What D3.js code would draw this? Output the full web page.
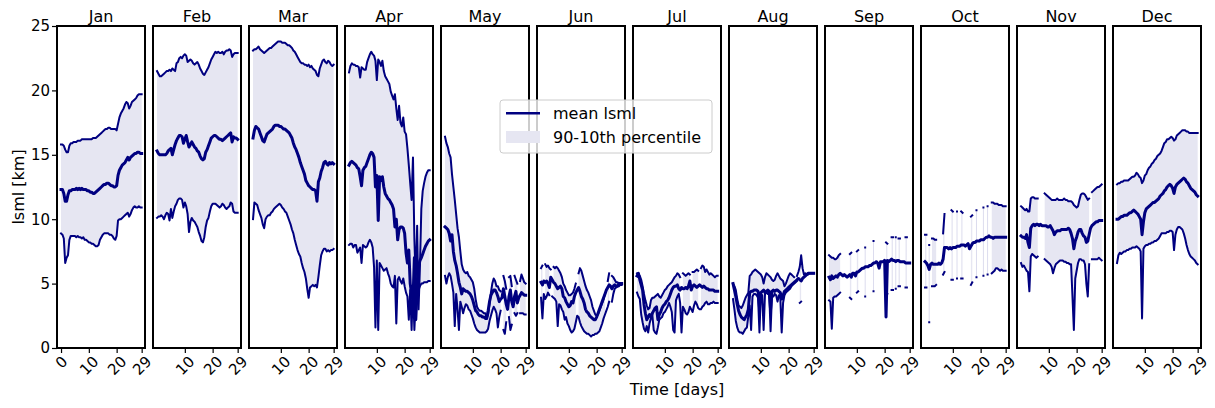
<!DOCTYPE html>
<html>
<head>
<meta charset="utf-8">
<script src="https://d3js.org/d3.v7.min.js"></script>
<style>
  body { margin: 0; background: #fff; }
  svg text { font-family: "DejaVu Sans", sans-serif; fill: #000; }
</style>
</head>
<body>
<div id="chart"></div>
<script>
// ---- data ----
const months = ["Jan", "Feb", "Mar", "Apr", "May", "Jun", "Jul", "Aug", "Sep", "Oct", "Nov", "Dec"];
const days = d3.range(0, 29.25, 0.5); // half-day sampling, 59 points
const yTicks = [0, 5, 10, 15, 20, 25];
const xTicksFirst = [0, 10, 20, 29];
const xTicksOther = [10, 20, 29];

// 90th percentile / mean / 10th percentile of lsml [km], null = no data
const janUpper = [15.8,15.8,15.7,15.4,15.2,15.2,15.7,15.9,15.9,16.0, 16.0,16.0,16.1,16.1,16.1,16.2,16.2,16.2,16.2,16.2, 16.2,16.2,16.2,16.3,16.3,16.3,16.4,16.5,16.6,16.7, 16.8,16.9,17.0,17.0,17.1,17.1,17.0,17.0,17.0,17.0, 16.9,17.4,17.9,18.2,18.4,18.6,18.9,19.1,19.0,18.6, 18.8,19.1,19.2,19.3,19.4,19.6,19.7,19.7,19.7];
const janMean  = [12.3,12.3,12.0,11.4,11.4,11.9,12.2,12.2,12.3,12.3, 12.3,12.4,12.3,12.4,12.3,12.4,12.3,12.3,12.3,12.2, 12.2,12.1,12.1,12.0,12.0,12.1,12.2,12.3,12.4,12.5, 12.6,12.7,12.7,12.8,12.8,12.7,12.6,12.6,12.5,12.5, 12.6,13.4,13.8,14.0,14.2,14.3,14.4,14.6,14.8,14.6, 14.8,14.9,15.0,15.1,15.1,15.2,15.2,15.1,15.1];
const janLower = [8.9,8.8,8.5,6.6,7.0,7.2,8.4,8.7,8.7,8.7, 8.7,8.6,8.7,8.6,8.6,8.5,8.6,8.4,8.4,8.3, 8.2,8.2,8.1,8.1,8.0,7.9,7.9,8.0,8.4,8.6, 8.8,8.9,8.9,8.9,8.9,8.8,8.8,8.7,8.5,8.4, 8.7,9.9,10.0,10.0,10.1,10.2,10.3,10.4,10.5,10.2, 10.4,10.7,10.9,11.0,10.9,10.9,11.0,10.9,10.9];

const febUpper = [21.5,21.3,21.1,21.1,21.2,21.3,21.4,21.5,21.5,21.6, 21.5,21.7,21.6,21.5,22.1,22.2,22.5,22.6,22.5,22.7, 22.8,22.7,22.2,22.3,22.4,22.3,22.1,22.0,22.1,22.2, 22.0,21.7,21.5,21.3,21.2,21.4,21.6,21.8,22.1,22.4, 22.6,22.8,23.0,22.9,23.0,22.9,22.9,23.0,22.8,23.0, 23.1,23.1,23.2,23.1,22.6,22.8,22.9,22.9,22.9];
const febMean  = [15.3,15.1,15.0,15.0,15.0,15.0,15.0,15.1,15.3,15.4, 15.5,15.0,15.4,15.8,16.1,16.3,16.5,16.5,16.4,15.9, 16.2,16.5,16.0,15.6,15.8,16.0,15.8,15.6,15.5,15.3, 15.2,14.9,14.7,14.6,14.7,15.2,15.4,15.7,16.0,16.3, 16.4,16.5,16.5,16.4,16.3,16.2,16.2,16.1,16.2,16.3, 16.4,16.5,16.6,16.7,16.0,16.4,16.3,16.3,16.2];
const febLower = [10.1,10.2,10.2,10.3,10.2,10.0,10.3,10.5,10.4,9.9, 10.8,10.1,10.6,11.0,11.2,11.5,11.6,11.6,11.5,10.9, 11.3,11.0,10.4,9.0,9.8,10.1,9.9,9.8,9.6,9.4, 9.0,8.7,8.3,8.2,8.6,9.4,9.9,10.1,10.6,11.0, 11.2,11.2,11.2,11.1,11.0,10.9,11.0,11.2,11.1,10.9, 10.8,10.9,11.0,11.3,11.2,10.6,10.5,10.5,10.5];

const marUpper = [23.1,23.2,23.2,23.3,23.4,23.2,23.1,23.0,22.9,23.0, 23.1,23.2,23.3,23.3,23.4,23.5,23.6,23.7,23.8,23.8, 23.8,23.7,23.7,23.7,23.6,23.5,23.5,23.4,23.3,23.1, 23.0,22.8,22.6,22.4,22.2,22.1,22.1,22.0,22.0,21.9, 22.0,21.8,21.9,21.7,21.6,21.5,21.2,21.1,21.7,22.0, 22.3,22.4,22.2,22.1,22.3,22.2,22.0,21.9,22.0];
const marMean  = [16.3,16.9,17.2,17.1,17.0,16.7,16.4,16.1,16.0,16.3, 16.6,16.7,16.8,16.9,17.0,17.2,17.3,17.3,17.3,17.2, 17.2,17.1,17.0,17.0,16.9,16.8,16.7,16.5,16.3,15.9, 15.6,15.4,15.1,14.8,14.4,14.1,13.8,13.5,13.0,12.8, 12.6,12.5,12.4,12.3,12.3,12.2,11.4,12.9,13.2,13.7, 14.0,14.4,14.5,14.3,14.2,14.4,14.3,14.4,14.3];
const marLower = [10.0,11.3,11.2,11.1,10.7,10.4,10.1,9.6,9.3,10.0, 10.2,10.3,10.3,10.5,10.6,10.8,10.9,11.0,11.1,11.2, 11.1,10.9,10.8,10.6,10.5,10.2,9.9,9.6,9.2,8.9, 8.4,8.0,7.6,7.3,7.1,6.6,6.2,5.9,5.4,4.6, 3.9,4.7,4.8,4.9,4.8,4.9,4.7,5.5,6.4,7.2, 7.5,7.7,7.7,7.5,7.6,7.5,7.6,7.6,7.7];

const aprUpper = [21.4,21.9,22.1,22.0,22.0,21.9,21.9,21.8,21.0,21.8, 21.7,21.6,21.6,22.2,22.5,22.8,23.0,22.8,22.7,22.3, 20.8,22.4,22.2,21.9,22.3,21.5,21.1,20.9,20.7,20.5, 19.9,19.6,19.3,19.7,18.6,17.7,18.8,17.5,17.2,17.9, 16.8,16.6,15.5,14.2,12.8,11.5,14.8,8.5,5.0,9.5, 3.0,6.3,10.8,12.2,12.8,13.3,13.6,13.8,13.8];
const aprMean  = [14.2,14.4,14.5,14.4,14.3,14.2,14.0,13.9,13.3,12.6, 13.8,14.0,14.1,14.4,14.7,15.0,15.2,15.1,14.8,12.5, 13.4,9.9,13.3,13.0,13.3,12.5,12.0,11.8,11.6,11.5, 11.3,11.1,10.8,9.4,10.0,8.4,9.2,9.4,9.4,9.3, 8.9,7.4,6.6,7.6,5.0,4.2,3.7,7.0,2.2,4.5, 6.3,6.8,7.0,7.3,7.6,7.9,8.1,8.3,8.4];
const aprLower = [8.0,8.1,8.1,7.8,8.0,8.0,7.4,7.6,7.8,6.6, 8.0,7.9,7.8,7.9,8.2,8.4,8.2,7.8,6.3,1.6, 6.8,1.4,6.6,6.4,6.2,6.0,6.1,6.2,5.8,5.5, 5.0,4.8,4.7,5.6,1.9,5.3,5.5,5.2,5.0,5.4, 4.8,4.3,4.0,2.2,4.5,1.4,4.8,1.4,3.7,4.2, 4.5,4.8,5.0,5.0,5.1,5.1,5.1,5.2,5.2];

const mayUpper = [16.4,15.9,15.6,15.1,14.8,13.5,12.5,11.5,10.4,9.3, 8.6,7.5,6.5,6.1,5.9,5.8,5.9,5.6,5.5,5.3, 5.1,4.6,3.8,3.2,3.0,2.9,2.9,2.8,2.7,2.7, 2.3,2.6,3.4,4.3,5.0,5.4,5.2,4.8,4.8,4.5, 4.4,null,5.6,5.2,4.6,null,5.5,5.6,4.8,null, 5.6,5.3,5.0,null,5.2,5.7,5.4,5.1,5.0];
const mayMean  = [9.4,9.3,9.2,8.9,8.3,8.8,7.5,6.8,6.4,5.8, 5.1,4.7,4.2,4.6,4.5,4.4,4.4,4.3,4.2,4.0, 3.7,3.3,2.9,2.8,2.6,2.5,2.5,2.4,2.4,2.3, 2.3,2.9,3.6,4.1,4.3,4.5,4.5,4.3,4.0,3.6, 3.8,3.9,4.6,4.0,3.4,3.0,4.0,4.5,3.6,3.2, 4.0,4.4,3.5,3.9,4.1,4.3,4.2,4.1,4.1];
const mayLower = [5.6,5.0,5.5,5.8,5.6,5.0,4.3,1.7,4.2,3.0, 1.4,3.6,3.2,2.7,3.1,3.4,3.3,3.0,2.9,2.6, 2.3,1.9,1.6,1.4,1.3,1.2,1.2,1.2,1.2,1.2, 1.3,1.5,2.1,2.5,2.9,3.2,3.0,2.7,1.6,2.4, 2.9,null,1.4,1.1,2.0,null,2.4,1.4,1.8,null, 2.7,2.5,2.7,null,2.7,2.7,2.7,2.6,2.6];

const junUpper = [6.2,6.4,null,6.5,6.3,6.4,6.2,6.1,null,6.3, 6.2,6.3,6.2,6.0,5.8,5.5,5.0,4.8,4.5,4.3, 4.1,4.1,4.2,4.3,4.6,5.0,null,5.8,6.2,6.0, 5.6,5.2,4.8,4.5,4.3,4.0,3.7,3.2,2.9,2.6, 2.5,2.6,2.9,3.2,3.5,3.8,4.2,null,5.2,5.8, null,5.6,5.5,5.3,5.1,5.1,5.0,5.0,5.0];
const junMean  = [5.1,4.9,5.2,5.1,5.2,5.0,4.7,5.5,5.3,5.1, 5.0,4.8,4.6,4.7,4.8,4.6,4.0,3.9,3.6,3.4, 3.2,3.3,3.6,3.5,4.0,4.3,4.5,4.7,4.4,4.0, 3.8,3.5,3.0,2.8,2.7,2.5,2.4,2.3,2.2,2.2, 2.4,2.7,3.0,3.3,3.6,3.9,4.2,4.5,4.7,4.9, 4.8,4.6,4.8,4.9,4.8,4.8,5.0,5.0,5.0];
const junLower = [3.9,2.3,4.2,3.8,4.0,4.3,4.1,null,4.0,3.9, 3.8,3.6,1.7,3.4,3.3,3.0,2.8,2.2,2.4,1.9, 1.7,1.4,1.2,1.3,1.5,2.0,2.5,2.4,2.0,1.7, 1.5,1.3,1.2,1.1,1.1,1.0,0.9,1.0,1.0,1.1, 1.1,1.2,1.3,1.6,1.9,2.3,2.6,2.9,3.2,3.6, null,3.6,4.2,4.6,4.7,4.8,4.8,4.9,4.9];

const julUpper = [5.8,5.7,5.6,5.3,4.8,4.2,3.7,3.3,3.0,3.1, 3.7,3.9,3.9,4.0,4.1,4.2,4.0,3.9,4.1,4.3, 4.5,4.6,4.8,4.9,5.0,5.1,5.3,5.5,5.6,5.8, 5.7,5.5,null,5.8,5.7,5.6,5.7,5.8,5.7,null, 5.9,5.9,6.0,6.1,6.0,null,6.2,6.4,6.3,5.9, 6.1,5.9,5.7,5.8,5.7,5.6,5.5,5.6,5.6];
const julMean  = [5.6,5.8,5.3,4.9,4.5,3.4,2.7,2.2,2.4,2.6, 2.4,2.7,2.9,3.1,3.2,2.2,2.6,2.8,3.1,3.3, 3.4,3.6,3.7,3.9,4.2,4.5,4.7,4.8,4.8,4.9, 4.6,4.5,4.7,4.6,4.6,4.7,4.6,4.8,5.2,4.5, 4.8,4.9,4.8,4.7,4.8,4.9,4.8,4.7,4.8,4.7, 4.6,4.6,4.5,4.5,4.5,4.5,4.4,4.4,4.4];
const julLower = [4.3,4.0,3.8,2.6,2.0,1.5,1.3,1.7,1.2,1.9, 2.3,2.6,1.4,1.2,1.1,1.6,2.2,2.3,2.4,2.7, 2.8,3.0,3.2,3.5,3.2,2.8,1.4,1.2,3.7,4.0, 4.2,3.5,1.2,3.2,3.0,2.7,2.6,2.8,3.2,3.0, 2.8,3.3,3.6,3.4,3.1,3.0,3.0,3.2,3.3,3.5, 3.6,3.4,3.4,3.5,3.5,3.6,3.5,3.5,3.5];

const augUpper = [5.0,4.8,4.5,3.8,3.3,3.2,3.1,3.3,3.6,3.9, 4.1,4.3,5.6,5.7,5.9,6.0,6.1,6.0,5.9,5.8, 5.7,5.5,5.0,5.5,5.8,5.7,5.6,5.5,5.3,5.2, 5.3,5.6,5.8,5.6,5.4,5.3,5.2,4.8,5.0,5.3, 5.6,5.8,5.7,5.6,5.5,null,5.6,5.9,6.3,7.2, 6.2,5.7,5.8,5.7,5.7,5.8,5.8,5.8,5.8];
const augMean  = [5.0,4.5,4.0,3.4,2.9,2.6,2.4,2.3,2.2,2.4, 2.6,3.0,4.3,4.4,4.4,4.5,4.5,4.5,4.4,3.2, 4.3,4.4,4.5,4.3,4.4,4.5,4.4,3.0,4.4,4.5, 4.4,4.5,4.5,4.4,4.3,3.8,4.1,4.4,4.5,4.6, 4.7,4.8,4.9,5.0,5.1,5.2,5.3,5.4,5.3,5.2, 5.4,5.5,5.6,5.7,5.8,5.8,5.8,5.8,5.8];
const augLower = [3.8,3.0,2.1,1.6,1.3,1.2,1.2,1.1,1.3,1.5, 1.6,2.5,3.3,1.4,4.0,4.2,4.2,4.1,3.9,1.2, 4.2,4.1,1.4,4.2,4.3,4.2,4.4,1.3,4.1,4.0, 4.2,4.1,3.6,4.1,3.9,1.2,3.5,4.1,4.3,4.4, 4.5,4.6,4.8,4.9,5.0,5.1,5.2,null,3.5,3.6, null,5.5,5.6,5.7,5.8,5.8,5.8,5.8,5.8];

const sepUpper = [7.2,7.1,7.0,7.0,6.9,6.9,7.0,7.2,7.3,null, null,null,null,null,null,7.3,7.4,null,null,null, 7.5,7.6,null,null,null,null,7.8,null,null,null, null,null,8.3,null,null,null,null,null,null,null, null,8.2,8.1,null,null,8.6,8.6,null,8.6,null, 8.5,8.5,null,null,null,8.6,8.6,null,null];
const sepMean  = [5.5,5.3,5.6,5.4,5.5,5.6,5.5,5.7,5.8,5.7, 5.6,5.7,5.6,5.5,5.6,5.7,5.5,5.8,5.8,5.6, 5.9,5.9,6.0,6.1,6.2,6.2,6.3,6.3,6.3,6.4, 6.4,6.5,6.6,6.6,6.7,6.6,6.2,6.7,6.7,6.7, 6.8,2.4,6.8,6.7,6.8,6.9,6.8,6.8,6.7,6.8, 6.8,6.7,6.7,6.7,6.7,6.6,6.6,6.6,6.6];
const sepLower = [3.7,3.6,1.5,3.9,4.0,4.0,4.1,4.2,4.3,null, null,null,null,null,null,3.9,3.8,null,null,null, 4.3,4.4,null,null,null,null,4.0,null,null,null, null,null,4.4,null,null,null,null,null,null,null, null,4.3,4.2,null,null,4.5,4.5,null,4.6,null, 4.8,4.8,null,null,null,4.7,4.7,null,null];

const octUpper = [8.8,8.8,null,8.0,null,8.5,8.5,8.4,8.4,null, null,null,null,8.9,10.4,null,null,null,null,10.7, 10.6,null,null,10.6,null,null,10.6,10.5,null,null, null,null,null,10.2,10.3,null,null,10.7,null,null, null,null,10.9,null,null,11.0,null,null,11.3,11.3, 11.2,11.2,11.2,11.1,11.1,11.1,11.0,11.0,11.0];
const octMean  = [6.7,6.6,6.4,6.1,6.5,6.6,6.5,6.5,6.5,6.5, 6.6,6.5,6.6,6.9,7.8,7.8,7.8,7.7,7.8,7.7, 7.8,7.8,7.8,7.9,7.9,7.9,8.0,8.0,8.0,7.9, 8.0,8.1,7.7,7.9,8.1,8.2,8.2,8.3,8.3,8.3, 8.4,8.4,8.4,8.5,8.6,8.6,8.7,8.6,8.6,8.5, 8.6,8.6,8.6,8.6,8.6,8.6,8.6,8.6,8.6];
const octLower = [4.7,4.7,null,2.0,null,4.8,4.8,4.8,4.9,null, null,null,null,5.7,5.9,null,null,null,null,5.3, 5.3,null,null,5.4,null,null,5.4,5.4,null,null, null,null,null,4.9,5.1,null,null,5.5,null,null, null,null,5.6,null,null,5.7,null,null,5.8,5.9, 6.0,6.2,6.2,6.1,6.0,6.1,6.0,6.0,6.0];

const novUpper = [11.0,10.9,10.8,10.7,10.8,10.6,10.6,11.6,11.7,11.7, 11.6,11.6,11.6,null,null,null,null,12.0,11.9,11.8, 11.7,11.6,11.5,11.5,11.5,11.5,11.6,11.5,11.5,11.5, 11.5,11.6,11.5,11.5,11.4,11.4,11.4,11.3,11.1,11.0, 10.9,11.0,11.5,11.9,12.0,12.0,11.9,11.7,11.5,11.6, null,12.1,12.2,12.3,12.4,12.5,12.5,12.6,12.7];
const novMean  = [8.7,8.6,8.6,8.5,8.8,8.2,7.8,9.3,9.5,9.6, 9.5,9.6,9.6,9.5,9.6,9.5,9.5,9.5,9.5,9.4, 9.4,9.5,9.3,9.1,8.8,9.0,9.1,9.1,9.1,9.2, 9.2,9.2,9.2,9.2,9.3,9.2,8.9,8.5,7.7,8.3, 8.6,9.0,9.2,9.2,8.9,8.7,8.6,8.2,8.3,8.8, 9.3,9.5,9.6,9.7,9.8,9.8,9.9,9.9,9.9];
const novLower = [6.6,6.3,6.4,6.2,6.0,5.9,4.4,7.1,7.3,7.2, 7.1,7.0,7.1,null,null,null,null,6.9,6.8,6.7, 6.6,6.5,6.3,5.8,6.2,6.5,6.6,6.7,6.8,6.8, 6.8,6.7,6.7,6.6,6.6,6.5,6.5,4.0,1.4,5.4, 6.0,6.6,6.9,6.9,6.8,6.8,6.5,5.0,4.0,6.5, null,6.9,6.9,6.9,6.9,6.9,7.0,6.9,6.8];

const decUpper = [12.7,12.8,12.8,12.9,12.9,13.0,13.0,13.0,13.0,13.1, 13.2,13.3,13.3,13.4,13.6,13.5,13.3,13.2,12.8,13.0, 13.4,13.5,13.8,14.0,14.1,14.3,14.4,14.6,14.7,14.9, 15.0,15.1,15.3,15.6,15.9,16.0,16.2,16.2,16.3,16.4, 16.3,16.1,16.2,16.5,16.6,16.7,16.8,16.9,16.9,16.9, 16.8,16.8,16.7,16.7,16.7,16.7,16.7,16.7,16.7];
const decMean  = [10.0,10.0,10.1,10.2,10.2,10.3,10.3,10.3,10.4,10.5, 10.5,10.6,10.7,10.6,10.5,10.4,10.2,10.0,8.8,9.8, 10.5,10.8,10.9,11.0,11.1,11.2,11.3,11.3,11.4,11.5, 11.6,11.8,11.9,12.0,12.2,12.3,12.5,12.6,12.7,12.6, 12.4,12.0,12.5,12.7,12.8,12.9,13.0,13.1,13.2,13.1, 12.9,12.8,12.6,12.4,12.3,12.2,12.1,11.9,11.8];
const decLower = [6.6,7.2,7.4,7.3,7.4,7.5,7.5,7.6,7.6,7.7, 7.7,7.8,7.8,7.8,7.9,7.8,7.7,7.5,2.3,7.7, 7.9,8.0,8.0,8.1,8.1,8.2,8.2,8.3,8.3,8.4, 8.5,8.7,8.9,8.9,8.9,8.9,9.0,9.0,9.1,9.1, 9.0,7.6,8.8,9.2,9.4,9.4,9.3,9.2,8.9,8.5, 8.0,7.6,7.3,7.1,7.0,6.9,6.8,6.6,6.5];

const upperSeries = [janUpper, febUpper, marUpper, aprUpper, mayUpper, junUpper, julUpper, augUpper, sepUpper, octUpper, novUpper, decUpper];
const meanSeries  = [janMean, febMean, marMean, aprMean, mayMean, junMean, julMean, augMean, sepMean, octMean, novMean, decMean];
const lowerSeries = [janLower, febLower, marLower, aprLower, mayLower, junLower, julLower, augLower, sepLower, octLower, novLower, decLower];

[upperSeries, meanSeries, lowerSeries].forEach((group, s) => group.forEach((arr, k) => {
  if (arr.length !== days.length) throw new Error("series " + s + " month " + months[k] + " has " + arr.length + " values");
}));

// ---- layout ----
const W = 1215, H = 408;
const panelLeft = 57, panelStep = 96, panelW = 88;
const plotTop = 26, plotBottom = 348;
const lineColor = "#000080";
const bandColor = "#e6e6f2";
const tickFont = 15, labelFont = 16;

const svg = d3.select("#chart").append("svg")
  .attr("width", W)
  .attr("height", H);

const y = d3.scaleLinear().domain([0, 25]).range([plotBottom, plotTop]);
const x = d3.scaleLinear().domain([-1.45, 30.2]).range([0, panelW]);

months.forEach((m, k) => {
  const g = svg.append("g").attr("transform", `translate(${panelLeft + k * panelStep},0)`);
  const pts = days.map((d, i) => ({ d: d, up: upperSeries[k][i], mn: meanSeries[k][i], lo: lowerSeries[k][i] }));
  const hasBand = p => p.up != null && p.lo != null;

  // percentile band
  g.append("path")
    .datum(pts)
    .attr("fill", bandColor)
    .attr("d", d3.area().defined(hasBand).x(p => x(p.d)).y0(p => y(p.lo)).y1(p => y(p.up)));

  // single samples of the band show as thin vertical strokes
  const lonely = pts.filter((p, i) => hasBand(p)
    && !(i > 0 && hasBand(pts[i - 1]))
    && !(i < pts.length - 1 && hasBand(pts[i + 1])));
  g.selectAll(".lonely").data(lonely).join("line")
    .attr("x1", p => x(p.d)).attr("x2", p => x(p.d))
    .attr("y1", p => y(p.lo)).attr("y2", p => y(p.up))
    .attr("stroke", "#dcdcee")
    .attr("stroke-width", 1);

  [["lo", 2], ["up", 2], ["mn", 3]].forEach(([key, w]) => {
    g.append("path")
      .datum(pts)
      .attr("fill", "none")
      .attr("stroke", lineColor)
      .attr("stroke-width", w)
      .attr("stroke-linejoin", "round")
      .attr("stroke-linecap", "square")
      .attr("d", d3.line().defined(p => p[key] != null).x(p => x(p.d)).y(p => y(p[key])));
  });

  // frame
  g.append("rect")
    .attr("x", 0).attr("y", plotTop)
    .attr("width", panelW).attr("height", plotBottom - plotTop)
    .attr("fill", "none")
    .attr("stroke", "#000")
    .attr("stroke-width", 2);

  // x axis
  const xa = g.append("g")
    .attr("transform", `translate(0,${plotBottom})`)
    .call(d3.axisBottom(x).tickValues(k === 0 ? xTicksFirst : xTicksOther).tickSize(5).tickFormat(d3.format("d")));
  xa.select(".domain").remove();
  xa.selectAll(".tick line").attr("stroke", "#000").attr("stroke-width", 1.2);
  xa.selectAll(".tick text")
    .attr("font-size", tickFont)
    .attr("font-family", "DejaVu Sans")
    .attr("fill", "#000")
    .each(function () {
      const w = this.getComputedTextLength();
      const c = 7 + (w + 11) * 0.3536;
      d3.select(this)
        .attr("y", 0).attr("dy", null)
        .attr("text-anchor", "middle")
        .attr("dominant-baseline", "central")
        .attr("transform", `translate(0,${c}) rotate(-45)`);
    });

  // y axis only on the first panel
  if (k === 0) {
    const ya = g.append("g").call(d3.axisLeft(y).tickValues(yTicks).tickSize(5).tickPadding(2));
    ya.select(".domain").remove();
    ya.selectAll(".tick line").attr("stroke", "#000").attr("stroke-width", 1.2);
    ya.selectAll(".tick text").attr("font-size", tickFont).attr("font-family", "DejaVu Sans").attr("fill", "#000");
  }

  // month title
  g.append("text")
    .attr("x", panelW / 2)
    .attr("y", 21.5)
    .attr("text-anchor", "middle")
    .attr("font-size", labelFont)
    .text(m);
});

// axis labels
svg.append("text")
  .attr("transform", `translate(23.5,${(plotTop + plotBottom) / 2}) rotate(-90)`)
  .attr("text-anchor", "middle")
  .attr("font-size", labelFont)
  .text("lsml [km]");

svg.append("text")
  .attr("x", panelLeft + 6 * panelStep + panelW / 2)
  .attr("y", 395)
  .attr("text-anchor", "middle")
  .attr("font-size", labelFont)
  .text("Time [days]");

// legend
const lg = svg.append("g").attr("transform", "translate(500,100)");
lg.append("rect")
  .attr("width", 212).attr("height", 53)
  .attr("rx", 3)
  .attr("fill", "#fff").attr("fill-opacity", 0.8)
  .attr("stroke", "#cccccc").attr("stroke-width", 1);
lg.append("line")
  .attr("x1", 6).attr("x2", 40).attr("y1", 13.3).attr("y2", 13.3)
  .attr("stroke", lineColor).attr("stroke-width", 2.5);
lg.append("rect")
  .attr("x", 6).attr("y", 31).attr("width", 34).attr("height", 12)
  .attr("fill", bandColor);
lg.append("text").attr("x", 53).attr("y", 19).attr("font-size", labelFont).text("mean lsml");
lg.append("text").attr("x", 53).attr("y", 42.5).attr("font-size", labelFont).text("90-10th percentile");
</script>
</body>
</html>
